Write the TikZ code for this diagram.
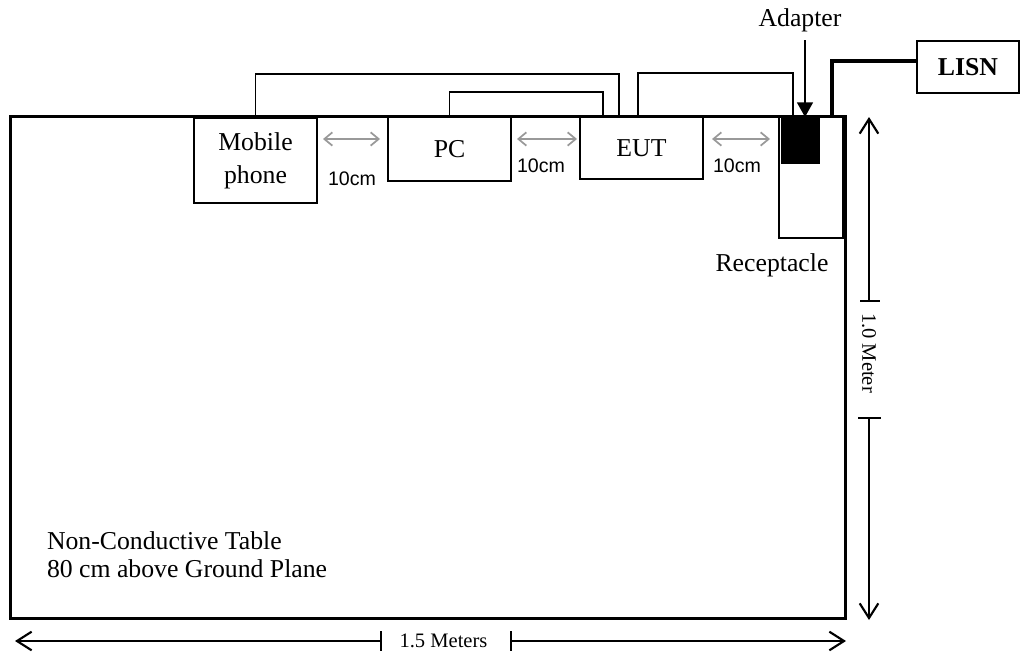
\documentclass[tikz,border=0pt]{standalone}
\usepackage{fontspec}
\setmainfont{Liberation Serif}
\newfontfamily\arialfont{Liberation Sans}
\usetikzlibrary{arrows.meta,calc}
\begin{document}
\begin{tikzpicture}[x=0.75pt,y=-0.75pt,
  mainfont/.style={font=\fontsize{19.3}{24.5}\selectfont},
  tbl/.style={draw,line width=2.25pt,inner sep=0pt,outer sep=0pt},
  box/.style={draw,line width=1.1pt,inner sep=0pt,outer sep=0pt,align=center,mainfont},
  lbl/.style={inner sep=0pt,outer sep=0pt,mainfont},
  cmlbl/.style={inner sep=0pt,outer sep=0pt,font=\arialfont\fontsize{14.7}{16}\selectfont},
  dimlbl/.style={inner sep=0pt,outer sep=0pt,font=\fontsize{15.4}{17}\selectfont},
  cable/.style={draw,line width=1.1pt},
  power/.style={draw,line width=2.3pt},
  garrow/.style={draw,line width=1.3pt,color=black!40,{Straight Barb[length=6pt,width=10pt]}-{Straight Barb[length=6pt,width=10pt]}},
  dimline/.style={draw,line width=0.9pt},
  dimtip/.style={-{Straight Barb[length=11pt,width=14pt,line width=1.6pt]}},
  tick/.style={draw,line width=1.1pt},
  ptr/.style={draw,line width=1.1pt,-{Triangle[length=11pt,width=12pt]}}
]
\useasboundingbox (0,0) rectangle (1022,657);

% table
\node[tbl,minimum width=626.25pt,minimum height=376.5pt] (table) at (427.5,367) {};

% devices
\node[box,minimum width=92.25pt,minimum height=63.75pt] (mob) at (255.5,160.5) {Mobile\\phone};
\node[box,minimum width=92.25pt,minimum height=48pt] (pc) at (449.5,149) {PC};
\node[box,minimum width=92.25pt,minimum height=46.5pt] (eut) at (641.5,148) {EUT};
\node[box,minimum width=48pt,minimum height=90.75pt] (rec) at (811,177.5) {};
\node[draw,fill=black,line width=1.1pt,inner sep=0pt,outer sep=0pt,minimum width=27.75pt,minimum height=34.5pt] (adp) at (800.5,140) {};
\node[box,font=\bfseries\fontsize{19.3}{22.5}\selectfont,minimum width=76.5pt,minimum height=39pt] (lisn) at (968,67) {LISN};

% labels
\node[lbl] (adplbl) at (800,20) {Adapter};
\node[lbl] (reclbl) at (772,265) {Receptacle};
\node[lbl,anchor=west,align=left,font=\fontsize{19.3}{21}\selectfont] (tbllbl) at (47,555) {Non-Conductive Table\\80 cm above Ground Plane};

% cables
\draw[cable] (mob.north) -- ++(0,-44) -| ($(eut.north)+(-22.5,0)$);
\draw[cable] (pc.north) -- ++(0,-25) -| ($(eut.north)+(-38.5,0)$);
\draw[cable] ($(eut.north)+(-3.5,0)$) -- ++(0,-44) -| ($(adp.north)+(-7.5,0)$);
\draw[power] ($(lisn.west)+(0,-6)$) -| ($(table.north east)+(-13,0)$);

% adapter pointer
\coordinate (adptop) at (805,40);
\draw[ptr] (adptop) -- (adptop |- adp.north);

% spacing arrows
\path (mob.east |- 0,139) ++(6,0) coordinate (g1a);
\path (pc.west |- 0,139) ++(-8,0) coordinate (g1b);
\path (pc.east |- 0,139) ++(6,0) coordinate (g2a);
\path (eut.west |- 0,139) ++(-3,0) coordinate (g2b);
\path (eut.east |- 0,139) ++(9,0) coordinate (g3a);
\path (rec.west |- 0,139) ++(-9,0) coordinate (g3b);
\draw[garrow] (g1a) -- (g1b);
\draw[garrow] (g2a) -- (g2b);
\draw[garrow] (g3a) -- (g3b);
\node[cmlbl] (cm1) at (352,179) {10cm};
\node[cmlbl] (cm2) at (541,166) {10cm};
\node[cmlbl] (cm3) at (737,166) {10cm};

% vertical dimension
\node[dimlbl,rotate=-90] (vlbl) at (869,353) {1.0 Meter};
\coordinate (vtop) at (869,117);
\coordinate (vt1) at (869,301);
\coordinate (vt2) at (869,418);
\coordinate (vbot) at (869,620);
\draw[dimline,dimtip] (vt1) -- (vtop);
\draw[dimline,dimtip] (vt2) -- (vbot);
\draw[tick] (860,301) -- (880,301);
\draw[tick] (858,418) -- (881,418);

% horizontal dimension
\node[dimlbl] (hlbl) at (443.5,641) {1.5 Meters};
\coordinate (hl) at (15,641);
\coordinate (ht1) at (381,641);
\coordinate (ht2) at (511,641);
\coordinate (hr) at (846,641);
\draw[dimline,dimtip] (ht1) -- (hl);
\draw[dimline,dimtip] (ht2) -- (hr);
\draw[tick] (381,631) -- (381,651);
\draw[tick] (511,631) -- (511,651);
\end{tikzpicture}
\end{document}
